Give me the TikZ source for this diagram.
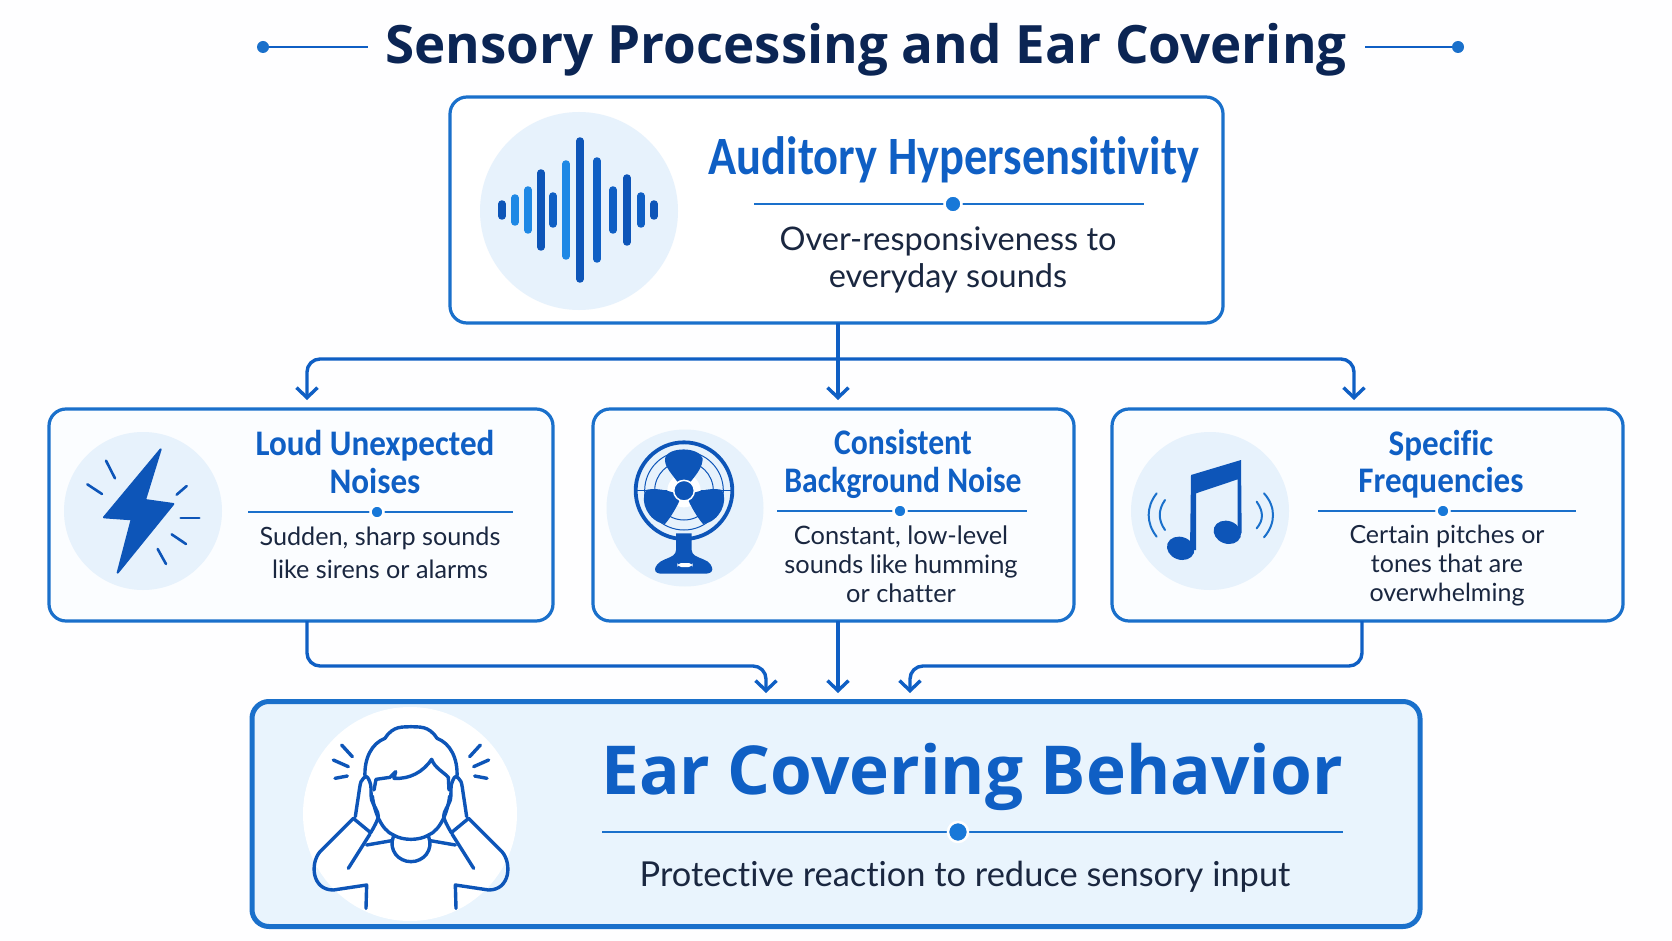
\documentclass[tikz,border=0pt]{standalone}
\usepackage{fontspec}
\usetikzlibrary{arrows.meta,calc}
\setmainfont{Lato}
\newfontfamily\headfont{Open Sans}
\newfontfamily\cardfont[FakeStretch=0.92,Ligatures=CommonOff]{Carlito}
\newfontfamily\cardmidfont[FakeStretch=0.88,Ligatures=CommonOff]{Carlito}
\newfontfamily\topfont[FakeStretch=0.86,Ligatures=CommonOff]{Carlito}
\newfontfamily\bodyfont[Ligatures=CommonOff]{Lato}
\definecolor{navy}{HTML}{0B2554}
\definecolor{ink}{HTML}{1A2740}
\definecolor{royal}{HTML}{0F5FC4}
\definecolor{deep}{HTML}{0D55B8}
\definecolor{edge}{HTML}{1A70CB}
\definecolor{sky}{HTML}{1E88E5}
\definecolor{pale}{HTML}{E7F2FC}
\definecolor{panel}{HTML}{E9F4FD}
\definecolor{card}{HTML}{FBFDFF}
\tikzset{
  boxbase/.style={draw=edge,rounded corners=17pt,inner sep=0pt,outer sep=0pt},
  topbox/.style={boxbase,line width=3.2pt,fill=white,minimum width=773pt,minimum height=226pt},
  rowbox/.style={boxbase,line width=3.2pt,fill=card,minimum height=212pt},
  bottombox/.style={boxbase,line width=5pt,fill=panel,minimum width=1168pt,minimum height=225pt},
  conn/.style={draw=royal,line width=3.4pt,rounded corners=13pt},
  arrowed/.style={conn,-{Straight Barb[length=10pt,width=21pt,line width=3.4pt]}},
  iconround/.style={fill=pale,draw=none},
  icon/.style={draw=deep,line cap=round,line join=round},
  cardtitle/.style={align=center,text=royal,font=\cardfont\bfseries\fontsize{36}{37.5}\selectfont,inner sep=0pt},
  carddesc/.style={align=center,text=ink,font=\bodyfont\fontsize{25}{29}\selectfont,inner sep=0pt},
  rule/.style={draw=edge,line width=1.8pt},
  ruledot/.style={circle,fill=sky!60!royal,draw=white,line width=2.5pt,inner sep=0pt,minimum size=15pt},
}
\newcommand{\dividerline}[5]{%
  \draw[rule] (#1,#4) -- (#2,#4);
  \node[ruledot,minimum size=#5pt] at (#3,#4) {};
}
\begin{document}
\begin{tikzpicture}[x=1pt,y=-1pt]
\useasboundingbox (0,0) rectangle (1672,941);
\fill[white!97!pale] (0,0) rectangle (1672,941);

% title
\node[inner sep=0pt,text=navy,font=\headfont\bfseries\fontsize{52.9}{56}\selectfont] (title) at (866,50) {Sensory Processing and Ear Covering};
\coordinate (decoLa) at (263,47); \coordinate (decoLb) at (368,47);
\coordinate (decoRa) at (1365,47); \coordinate (decoRb) at (1458,47);
\draw[rule,royal] (decoLa) -- (decoLb);
\draw[rule,royal] (decoRa) -- (decoRb);
\fill[edge] (decoLa) circle (6);
\fill[edge] (decoRb) circle (6);

% boxes
\node[topbox] (top) at (836.5,210) {};
\node[rowbox,minimum width=504pt] (boxL) at (301,515) {};
\node[rowbox,minimum width=481pt] (boxM) at (833.5,515) {};
\node[rowbox,minimum width=511pt] (boxR) at (1367.5,515) {};
\node[bottombox] (bottom) at (836,814) {};

% connector way points
\coordinate (tipL) at (307,400);
\coordinate (tipC) at (838,400);
\coordinate (tipR) at (1354,400);
\coordinate (bus) at (838,359);
\coordinate (inL) at (766,693);
\coordinate (inC) at (838,693);
\coordinate (inR) at (910,693);
\coordinate (low) at (838,666);
\coordinate (outR) at (1362,621);

% upper connectors
\draw[arrowed] (top.south -| tipC) -- (tipC);
\draw[arrowed] (bus) -| (tipL);
\draw[arrowed] (bus) -| (tipR);
% lower connectors
\draw[arrowed] (boxL.south -| tipL) -- (tipL |- low) -- (inL |- low) -- (inL);
\draw[arrowed] (boxM.south -| inC) -- (inC);
\draw[arrowed] (boxR.south -| outR) -- (outR |- low) -- (inR |- low) -- (inR);

% --- top card
\fill[iconround] (579,211) circle (99);
\foreach \bx/\bh/\bc in {502/9/deep,515/15/sky,528/23/sky,541/40/deep,553/17/royal,566/49/sky,580/72/deep,597/52/royal,613/23/royal,627/35/deep,641/17/royal,654/9/deep}{
  \draw[\bc,line width=7.5pt,line cap=round] (\bx,210-\bh+3) -- (\bx,210+\bh-3);
}
\node[cardtitle,font=\topfont\bfseries\fontsize{54}{56}\selectfont] (topT) at (954,160) {Auditory Hypersensitivity};
\dividerline{754}{1144}{953}{204}{17}
\node[carddesc,font=\bodyfont\fontsize{32.5}{37}\selectfont] (topD) at (948,260) {Over-responsiveness to\\everyday sounds};

% --- left card
\fill[iconround] (143,511) circle (79);
\begin{scope}[shift={(40,400)},x=0.33333pt,y=-0.33333pt]
  \fill[deep,draw=deep,line width=2pt,line join=round] (362,148) -- (315,300) -- (400,312) -- (233,518) -- (275,358) -- (192,352) -- cycle;
  \foreach \a/\b in {{(198,182)/(225,235)},{(142,253)/(186,282)},{(410,284)/(440,258)},{(422,354)/(478,354)},{(395,403)/(438,432)},{(353,447)/(378,492)}}{
    \draw[icon,line width=2.6pt] \a -- \b;
  }
\end{scope}
\node[cardtitle] (leftT) at (375,462) {Loud Unexpected\\Noises};
\dividerline{248}{513}{377}{512}{13}
\node[carddesc,font=\bodyfont\fontsize{25.2}{33}\selectfont] (leftD) at (380,553) {Sudden, sharp sounds\\like sirens or alarms};

% --- middle card
\fill[iconround] (685,508) circle (78.5);
\begin{scope}[shift={(590,400)},x=0.33333pt,y=-0.33333pt]
  \draw[deep,line width=1pt] (282,272) circle (118);
  \draw[deep,line width=1pt] (282,272) circle (88);
  \draw[deep,line width=1pt] (140,272) -- (424,272);
  \fill[white] (282,272) circle (50);
  \fill[deep] (258,400) -- (305,400) -- (305,450) .. controls (305,465) and (320,470) .. (340,478) .. controls (360,485) and (367,500) .. (367,508) .. controls (367,518) and (355,521) .. (345,521) -- (215,521) .. controls (205,521) and (195,518) .. (195,508) .. controls (195,500) and (205,485) .. (225,478) .. controls (245,470) and (258,465) .. (258,450) -- cycle;
  \fill[white,rounded corners=4pt] (262,489) rectangle (308,501);
  \draw[deep,line width=3.8pt] (282,272) circle (145);
  \fill[deep,line join=round] (262,245) .. controls (240,215) and (220,195) .. (226,172) .. controls (238,140) and (326,140) .. (338,175) .. controls (338,200) and (322,220) .. (302,245) -- cycle;
  \fill[deep] (252,278) .. controls (220,268) and (190,264) .. (168,270) .. controls (148,305) and (175,365) .. (225,372) .. controls (242,352) and (258,325) .. (268,303) -- cycle;
  \fill[deep] (312,278) .. controls (344,268) and (374,264) .. (396,270) .. controls (416,305) and (389,365) .. (339,372) .. controls (322,352) and (306,325) .. (296,303) -- cycle;
  \fill[deep,draw=white,line width=1.5pt] (282,272) circle (31);
\end{scope}
\node[cardtitle,font=\cardmidfont\bfseries\fontsize{36}{37.5}\selectfont] (midT) at (903,464) {Consistent\\Background Noise};
\dividerline{777}{1027}{900}{511}{13}
\node[carddesc,font=\bodyfont\fontsize{25.4}{29}\selectfont] (midD) at (901,564) {Constant, low-level\\sounds like humming\\or chatter};

% --- right card
\fill[iconround] (1210,511) circle (79);
\begin{scope}[shift={(1110,400)},x=0.33333pt,y=-0.33333pt]
  \fill[deep] (243,225) -- (393,180) -- (395,400) -- (383,400) -- (383,238) -- (258,280) -- (258,450) -- (240,450) -- cycle;
  \fill[deep,rotate around={-20:(212,445)}] (212,445) ellipse (42 and 34);
  \fill[deep,rotate around={-20:(352,397)}] (352,397) ellipse (42 and 34);
  \draw[edge,line width=2pt,line cap=round] (140,280) .. controls (108,320) and (108,370) .. (140,410);
  \draw[edge,line width=2pt,line cap=round] (165,300) .. controls (144,330) and (144,360) .. (165,390);
  \draw[edge,line width=2pt,line cap=round] (440,305) .. controls (461,335) and (461,360) .. (440,385);
  \draw[edge,line width=2pt,line cap=round] (462,280) .. controls (498,320) and (498,370) .. (462,412);
\end{scope}
\node[cardtitle] (rightT) at (1441,464) {Specific\\Frequencies};
\dividerline{1318}{1576}{1443}{511}{13}
\node[carddesc] (rightD) at (1447,566) {Certain pitches or\\tones that are\\overwhelming};

% --- bottom card
\fill[white] (410,814) circle (107);
\begin{scope}[shift={(250,690)},x=0.33333pt,y=-0.33333pt]
  \foreach \m/\o in {1/0,-1/966}{
    \begin{scope}[shift={(\o,0)},xscale=\m]
      \draw[icon,line width=3.4pt] (275,165) -- (307,200);
      \draw[icon,line width=3.4pt] (250,210) -- (295,230);
      \draw[icon,line width=3.4pt] (255,265) -- (292,258);
      % hand
      \draw[icon,line width=3.4pt] plot[smooth] coordinates {(316,380) (325,320) (333,275) (350,260) (362,285) (365,330) (385,378) (362,428)};
      \draw[icon,line width=3.4pt] (310,385) -- (362,428);
      % arm
      \draw[icon,line width=3.4pt] (310,385) -- (210,485) .. controls (180,520) and (185,600) .. (250,600) -- (350,585) -- (348,655);
      \draw[icon,line width=3.4pt] (360,432) -- (295,535);
      % shoulder
      \draw[icon,line width=3.4pt] (350,465) -- (425,452);
      % face side
      \draw[icon,line width=3.4pt] (367,318) .. controls (372,360) and (392,420) .. (432,436);
      % hair side
      \draw[icon,line width=3.4pt] (345,262) .. controls (342,205) and (365,160) .. (405,145);
      \draw[icon,line width=3.4pt] (405,145) .. controls (430,105) and (460,112) .. (483,110);
      \draw[icon,line width=3.4pt] (430,440) .. controls (415,480) and (445,515) .. (483,515);
    \end{scope}
  }
  \draw[icon,line width=3.4pt] (432,436) .. controls (460,452) and (506,452) .. (534,436);
  \draw[icon,line width=3.4pt] (372,300) -- (378,268) -- (420,262) -- (437,245) -- (432,265) .. controls (480,268) and (520,245) .. (545,208) .. controls (555,235) and (580,245) .. (595,262) -- (597,300);
\end{scope}
\node[inner sep=0pt,text=royal,font=\headfont\bfseries\fontsize{67.5}{76}\selectfont] (botT) at (972,777) {Ear Covering Behavior};
\dividerline{602}{1343}{958}{832}{20}
\node[inner sep=0pt,text=ink,font=\bodyfont\fontsize{34.4}{40}\selectfont] (botD) at (965,877) {Protective reaction to reduce sensory input};
\end{tikzpicture}
\end{document}
